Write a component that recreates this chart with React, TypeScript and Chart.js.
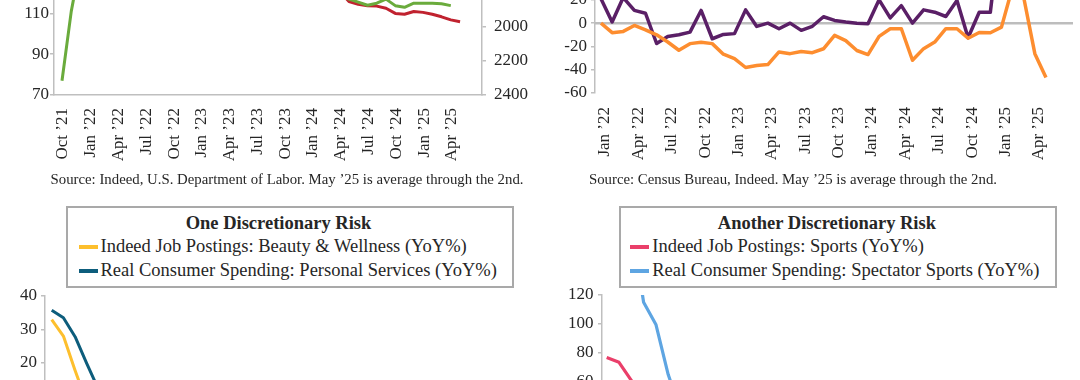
import React, { useEffect, useRef } from "react";
import { Chart, registerables } from "chart.js";

Chart.register(...registerables);

const FONT_FAMILY = "'Liberation Serif', 'Times New Roman', serif";
const TEXT = "#262626";
const GRAY = "#bfbfbf";

// ---------- Panel 1: Indeed postings vs continuing claims ----------
const jobsMonths = [
  "Oct ’21", "Nov ’21", "Dec ’21",
  "Jan ’22", "Feb ’22", "Mar ’22", "Apr ’22", "May ’22", "Jun ’22", "Jul ’22", "Aug ’22", "Sep ’22", "Oct ’22", "Nov ’22", "Dec ’22",
  "Jan ’23", "Feb ’23", "Mar ’23", "Apr ’23", "May ’23", "Jun ’23", "Jul ’23", "Aug ’23", "Sep ’23", "Oct ’23", "Nov ’23", "Dec ’23",
  "Jan ’24", "Feb ’24", "Mar ’24", "Apr ’24", "May ’24", "Jun ’24", "Jul ’24", "Aug ’24", "Sep ’24", "Oct ’24", "Nov ’24", "Dec ’24",
  "Jan ’25", "Feb ’25", "Mar ’25", "Apr ’25", "May ’25",
];
const jobsTickLabels = [
  "Oct ’21", "Jan ’22", "Apr ’22", "Jul ’22", "Oct ’22", "Jan ’23", "Apr ’23", "Jul ’23",
  "Oct ’23", "Jan ’24", "Apr ’24", "Jul ’24", "Oct ’24", "Jan ’25", "Apr ’25",
];
const postingsTicks = [70, 90, 110, 130, 150, 170];
const claimsTicks = [1200, 1400, 1600, 1800, 2000, 2200, 2400];
const indeedPostings = [
  77, 111, 135,
  150, 158, 162, 161, 160, 158, 155, 152, 150, 148, 146, 145,
  143, 140, 137, 134, 133, 131, 129, 127, 126, 124, 122, 121,
  120, 120, 119, 118.5, 117, 115.5, 114, 115, 117, 113.8, 113, 115,
  115, 115, 114.7, 113.8, null,
];
const continuingClaims = [
  null, null, null,
  1640, 1500, 1420, 1390, 1330, 1350, 1370, 1420, 1370, 1410, 1560, 1660,
  1670, 1680, 1790, 1800, 1760, 1740, 1700, 1700, 1670, 1740, 1800, 1800,
  1780, 1800, 1790, 1790, 1850, 1866, 1875, 1877, 1890, 1920, 1925, 1909,
  1914, 1925, 1940, 1958, 1969,
];

// ---------- Panel 2: Census vs Indeed (YoY%) ----------
const retailMonths = jobsMonths.slice(3);
const retailTickLabels = jobsTickLabels.slice(1);
const retailTicks = [-60, -40, -20, 0, 20, 40, 60, 80];
const retailReferenceLevel = 0;
const censusSeries = [
  21, 1, 22, 11, 8.5, -17.5, -11.4, -10, -7.7, 10.9, -13.4, -9.7,
  -9, 11.4, -2.8, 0, -4.8, 0, -6.2, -2.7, 5.5, 2.3, 0.9, 0,
  -0.5, 20, 4.5, 15, 0, 11.4, 9.4, 5.7, 19.5, -12.5, 9.4, 9.4,
  90, 70, 50, null, null,
];
const indeedSeries = [
  0, -8.2, -7.1, -2, -5.7, -10, -16.2, -23.3, -17.6, -16.5, -17.6, -26.7,
  -30.4, -38.1, -36.4, -35.6, -24.7, -26.2, -24.4, -25.4, -22, -10.5, -15, -23.5,
  -27, -11.4, -4.8, -4.8, -31.9, -21.9, -16.2, -4.8, -4.8, -13, -8, -8.2,
  -3.4, 31, 22, -26.2, -46.7,
];

// ---------- Panel 3: One Discretionary Risk ----------
const riskMonths = jobsMonths.slice(3, 43);
const beautyTicks = [-10, 0, 10, 20, 30, 40];
const beautyPostings = [
  32.9, 28, 17.7, 8, 3, 1, -2, -4, -3, -6, -8, -7, -10, -12, -11, -9, -13, -12, -10, -14,
  -11, -9, -12, -13, -10, -8, -11, -9, -12, -10, -7, -9, -8, -11, -10, -12, -14, -13, -15, -16,
];
const personalServices = [
  35.7, 33.5, 27.8, 19.7, 12, 8, 6, 5, 4.5, 4, 3.5, 3, 3, 2.5, 2.8, 2.2, 2, 1.8, 2, 1.5,
  1.7, 1.4, 1.2, 1.5, 1, 0.8, 1.2, 0.6, 0.5, 0.9, 0.4, 0.2, -0.3, 0.1, -0.5, -0.2, -0.8, -1, -0.6, -1.2,
];

// ---------- Panel 4: Another Discretionary Risk ----------
const sportsTicks = [-40, -20, 0, 20, 40, 60, 80, 100, 120];
const sportsPostings = [
  76.7, 73.4, 61, 45, 32, 25, 18, 14, 10, 6, 4, 2, 0, -3, -2, -5, -6, -4, -8, -7,
  -9, -10, -8, -11, -12, -10, -13, -11, -14, -12, -15, -13, -16, -14, -17, -18, -16, -19, -20, -22,
];
const spectatorSports = [
  250, 210, 170, 115, 99.6, 65, 40, 30, 22, 18, 15, 12, 10, 8, 9, 7, 6, 5, 6, 4,
  5, 3, 4, 2, 3, 1, 2, 0, 1, -1, 0, -2, -1, -3, -2, -4, -3, -5, -4, -6,
];

const COLORS = {
  green: "#6aab3c",
  red: "#c0222f",
  purple: "#5a1f66",
  orange: "#fd8d2f",
  yellow: "#fdbf2d",
  teal: "#0d5d7c",
  pink: "#ea3f6a",
  blue: "#5ea5e2",
};

const AXIS_FONT = { family: FONT_FAMILY, size: 17 };

function valueAxis(o: {
  position: "left" | "right";
  ticks: number[];
  width: number;
  padding: number;
  reverse?: boolean;
}) {
  return {
    type: "linear",
    position: o.position,
    reverse: !!o.reverse,
    min: Math.min(...o.ticks),
    max: Math.max(...o.ticks),
    afterFit: (s: any) => {
      s.width = o.width;
    },
    afterBuildTicks: (s: any) => {
      s.ticks = o.ticks.map((v) => ({ value: v }));
    },
    ticks: {
      autoSkip: false,
      color: TEXT,
      font: AXIS_FONT,
      padding: o.padding,
      callback: (v: any) => String(v),
    },
    grid: {
      drawOnChartArea: false,
      color: GRAY,
      lineWidth: 1.5,
      drawTicks: true,
      tickLength: 4,
      tickColor: GRAY,
      tickWidth: 1.5,
    },
    border: { display: true, color: GRAY, width: 1.5 },
  };
}

function timeAxis(o: {
  months: string[];
  ticks: string[];
  min: number;
  max: number;
  height: number;
  padding: number;
  labelOffset: number;
  border: boolean;
  display?: boolean;
}) {
  return {
    type: "linear",
    position: "bottom",
    display: o.display ?? true,
    min: o.min,
    max: o.max,
    afterFit: (s: any) => {
      s.height = o.height;
    },
    afterBuildTicks: (s: any) => {
      s.ticks = o.ticks.map((l) => ({ value: o.months.indexOf(l) }));
    },
    ticks: {
      autoSkip: false,
      minRotation: 90,
      maxRotation: 90,
      padding: o.padding,
      labelOffset: o.labelOffset,
      color: TEXT,
      font: AXIS_FONT,
      callback: (v: any) => o.months[v] ?? "",
    },
    grid: { display: false, drawTicks: false },
    border: { display: o.border, color: GRAY, width: 1.5 },
  };
}

function series(months: string[], values: (number | null)[], color: string, width: number, yAxisID = "y") {
  return {
    data: months.map((_, i) => ({ x: i, y: values[i] ?? null })),
    borderColor: color,
    backgroundColor: color,
    borderWidth: width,
    pointRadius: 0,
    tension: 0,
    spanGaps: false,
    yAxisID,
    borderJoinStyle: "round",
    order: 1,
  };
}

// Horizontal reference line at a given level, one point per month across the whole series.
function referenceLine(months: string[], level: number, color: string, width: number) {
  return {
    data: [-1, ...months.map((_, i) => i), months.length + 2].map((x) => ({ x, y: level })),
    borderColor: color,
    backgroundColor: color,
    borderWidth: width,
    pointRadius: 0,
    tension: 0,
    order: 10,
  };
}

function baseOptions(padding: any, scales: any) {
  return {
    animation: false,
    responsive: false,
    devicePixelRatio: 1,
    layout: { padding },
    plugins: {
      legend: { display: false },
      tooltip: { enabled: false },
      title: { display: false },
    },
    scales,
  };
}

type Box = { left: number; top: number; width: number; height: number };

function ChartCanvas({ box, make }: { box: Box; make: () => any }) {
  const ref = useRef<HTMLCanvasElement | null>(null);
  useEffect(() => {
    const chart = new Chart(ref.current as HTMLCanvasElement, make());
    return () => chart.destroy();
  }, []);
  return (
    <canvas
      ref={ref}
      width={box.width}
      height={box.height}
      style={{ position: "absolute", left: box.left, top: box.top, width: box.width, height: box.height }}
    />
  );
}

function LegendBox({
  left,
  width,
  title,
  items,
  padLeft,
}: {
  left: number;
  width: number;
  title: string;
  items: { label: string; color: string }[];
  padLeft: number;
}) {
  return (
    <div
      style={{
        position: "absolute",
        left,
        top: 205.5,
        width,
        height: 82,
        boxSizing: "border-box",
        border: "2px solid #a9a9a9",
        background: "#fff",
        paddingTop: 3,
        fontFamily: FONT_FAMILY,
        color: TEXT,
      }}
    >
      <div style={{ fontWeight: 700, fontSize: 18.5, lineHeight: "24px", textAlign: "center", paddingRight: 22 }}>{title}</div>
      {items.map((it) => (
        <div
          key={it.label}
          style={{ display: "flex", alignItems: "center", height: 24, paddingLeft: padLeft, fontSize: 18.5, whiteSpace: "nowrap" }}
        >
          <span style={{ display: "inline-block", width: 19, height: 4, background: it.color, marginRight: 3 }} />
          <span>{it.label}</span>
        </div>
      ))}
    </div>
  );
}

function SourceNote({ center, text }: { center: number; text: string }) {
  return (
    <div
      style={{
        position: "absolute",
        left: center - 300,
        width: 600,
        top: 170,
        lineHeight: "18px",
        fontSize: 14.8,
        textAlign: "center",
        whiteSpace: "nowrap",
        fontFamily: FONT_FAMILY,
        color: TEXT,
      }}
    >
      {text}
    </div>
  );
}

export default function App() {
  Chart.defaults.font.family = FONT_FAMILY;
  Chart.defaults.color = TEXT;

  const makeJobs = () => ({
    type: "line",
    data: {
      datasets: [
        series(jobsMonths, indeedPostings, COLORS.green, 3, "y"),
        series(jobsMonths, continuingClaims, COLORS.red, 3, "y1"),
      ],
    },
    options: baseOptions(
      { top: 20, left: 0, right: 0, bottom: 0 },
      {
        x: timeAxis({ months: jobsMonths, ticks: jobsTickLabels, min: -0.864, max: 45.37, height: 80, padding: 13, labelOffset: 1, border: true }),
        y: valueAxis({ position: "left", ticks: postingsTicks, width: 54, padding: 1 }),
        y1: valueAxis({ position: "right", ticks: claimsTicks, width: 58, padding: 8, reverse: true }),
      }
    ),
  });

  const makeRetail = () => ({
    type: "line",
    data: {
      datasets: [
        series(retailMonths, indeedSeries, COLORS.orange, 3.5),
        series(retailMonths, censusSeries, COLORS.purple, 3.5),
        referenceLine(retailMonths, retailReferenceLevel, "#bdbdbd", 2.5),
      ],
    },
    options: baseOptions(
      { top: 20, left: 0, right: 7, bottom: 0 },
      {
        x: timeAxis({ months: retailMonths, ticks: retailTickLabels, min: -0.539, max: 42.43, height: 82, padding: 14, labelOffset: 4, border: false }),
        y: valueAxis({ position: "left", ticks: retailTicks, width: 55, padding: 4 }),
      }
    ),
  });

  const makeBeauty = () => ({
    type: "line",
    data: {
      datasets: [
        series(riskMonths, beautyPostings, COLORS.yellow, 3),
        series(riskMonths, personalServices, COLORS.teal, 3),
      ],
    },
    options: baseOptions(
      { top: 20, left: 0, right: 20, bottom: 0 },
      {
        x: timeAxis({ months: riskMonths, ticks: [], min: -0.573, max: 40.03, height: 0, padding: 0, labelOffset: 0, border: false, display: false }),
        y: valueAxis({ position: "left", ticks: beautyTicks, width: 45, padding: 4 }),
      }
    ),
  });

  const makeSports = () => ({
    type: "line",
    data: {
      datasets: [
        series(riskMonths, sportsPostings, COLORS.pink, 3.2),
        series(riskMonths, spectatorSports, COLORS.blue, 3.2),
      ],
    },
    options: baseOptions(
      { top: 20, left: 0, right: 15, bottom: 0 },
      {
        x: timeAxis({ months: riskMonths, ticks: [], min: -0.382, max: 37.26, height: 0, padding: 0, labelOffset: 0, border: false, display: false }),
        y: valueAxis({ position: "left", ticks: sportsTicks, width: 62, padding: 4.5 }),
      }
    ),
  });

  return (
    <div
      style={{
        position: "absolute",
        left: 0,
        top: 0,
        width: 1080,
        height: 380,
        overflow: "hidden",
        background: "#ffffff",
      }}
    >
      <ChartCanvas box={{ left: 0, top: -129, width: 540, height: 304 }} make={makeJobs} />
      <ChartCanvas box={{ left: 540, top: -90, width: 540, height: 265 }} make={makeRetail} />
      <ChartCanvas box={{ left: 0, top: 276, width: 540, height: 201 }} make={makeBeauty} />
      <ChartCanvas box={{ left: 540, top: 275, width: 540, height: 266 }} make={makeSports} />
      <SourceNote center={287} text="Source: Indeed, U.S. Department of Labor. May ’25 is average through the 2nd." />
      <SourceNote center={793} text="Source: Census Bureau, Indeed. May ’25 is average through the 2nd." />
      <LegendBox
        left={65.5}
        width={448}
        padLeft={11}
        title="One Discretionary Risk"
        items={[
          { label: "Indeed Job Postings: Beauty & Wellness (YoY%)", color: COLORS.yellow },
          { label: "Real Consumer Spending: Personal Services (YoY%)", color: COLORS.teal },
        ]}
      />
      <LegendBox
        left={618.6}
        width={438.6}
        padLeft={9.7}
        title="Another Discretionary Risk"
        items={[
          { label: "Indeed Job Postings: Sports (YoY%)", color: COLORS.pink },
          { label: "Real Consumer Spending: Spectator Sports (YoY%)", color: COLORS.blue },
        ]}
      />
    </div>
  );
}
